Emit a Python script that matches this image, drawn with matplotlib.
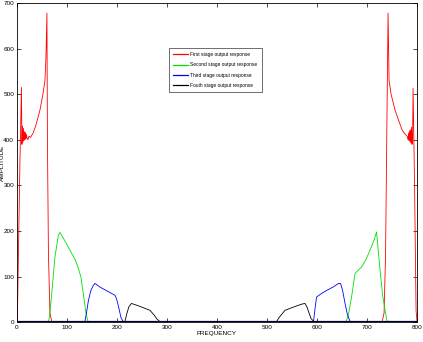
import matplotlib
matplotlib.use('Agg')
import matplotlib.pyplot as plt

plt.rcParams['font.family'] = ['Liberation Sans', 'DejaVu Sans']

# First stage (red)
x1 = [0, 1, 3, 6, 9, 10, 11, 12, 13, 14, 15, 16, 17, 18, 19, 20, 22, 24, 27, 32, 38, 46, 52, 56, 58, 60,
      61, 63, 66, 70, 730, 734, 737, 740, 742, 744, 748, 756, 764, 770, 775, 780, 782, 783, 784, 785, 786,
      787, 788, 789, 790, 791, 792, 795, 798, 800]
y1 = [0, 10, 150, 350, 515, 390, 430, 395, 425, 398, 418, 400, 416, 402, 412, 405, 400, 408, 405, 414, 432, 465, 500, 530, 580, 678,
      400, 150, 20, 0, 0, 20, 150, 470, 678, 530, 500, 465, 440, 422, 414, 408, 400, 415, 398, 420, 395,
      422, 393, 428, 390, 400, 513, 300, 25, 0]

# Second stage (green)
x2 = [0, 60, 63, 65, 69, 76, 83, 86, 95, 106, 116, 122, 128, 133, 138, 142, 146,
      654, 658, 662, 669, 676, 689, 698, 706, 714, 719, 726, 731, 736, 740, 800]
y2 = [0, 0, 2, 11, 55, 143, 191, 197, 180, 158, 138, 121, 99, 60, 20, 2, 0,
      0, 2, 12, 55, 107, 121, 138, 158, 180, 198, 114, 60, 26, 2, 0]

# Third stage (blue)
x3 = [0, 132, 136, 139, 143, 148, 153, 156, 166, 176, 186, 196, 199, 204, 208, 212, 216,
      589, 593, 596, 599, 604, 609, 620, 632, 643, 647, 651, 656, 661, 666, 670, 800]
y3 = [0, 0, 2, 20, 48, 70, 81, 85, 77, 71, 65, 59, 52, 30, 10, 2, 0,
      0, 2, 30, 55, 59, 63, 70, 77, 85, 85, 70, 41, 15, 2, 0, 0]

# Fourth stage (black)
x4 = [0, 212, 216, 220, 224, 229, 240, 252, 266, 274, 280, 286, 290,
      515, 519, 524, 530, 536, 548, 560, 571, 576, 580, 584, 588, 593, 597, 800]
y4 = [0, 0, 2, 20, 34, 41, 37, 32, 26, 16, 7, 1, 0,
      0, 1, 10, 18, 26, 31, 36, 40, 41, 33, 20, 8, 2, 0, 0]

labels = ['First stage output response', 'Second stage output response',
          'Third stage output response', 'Fouth stage output response']
colors = ['#ff0000', '#00e000', '#0000ff', '#000000']

fig = plt.figure(figsize=(4.23, 3.42), dpi=100)
ax = fig.add_axes([0.040, 0.058, 0.946, 0.933])

for xs, ys, c, lab in zip([x1, x2, x3, x4], [y1, y2, y3, y4], colors, labels):
    ax.plot(xs, ys, color=c, lw=0.6, label=lab)
ax.axhline(0, color='#000033', lw=1.6, zorder=5)

ax.set_xlim(0, 800)
ax.set_ylim(0, 700)
ax.set_xticks(range(0, 801, 100))
ax.set_yticks(range(0, 701, 100))
ax.tick_params(direction='in', length=3, width=0.5, labelsize=4.6, pad=2,
               top=True, right=True)
for s in ax.spines.values():
    s.set_linewidth(0.6)

ax.set_xlabel('FREQUENCY', fontsize=4.6, labelpad=1)
ax.set_ylabel('AMPLITUDE', fontsize=4.6)
ax.yaxis.set_label_coords(-0.029, 0.5)

leg = ax.legend(loc='upper left', bbox_to_anchor=(0.373, 0.868), fontsize=3.5,
                frameon=True, fancybox=False, edgecolor='black', handlelength=3.0,
                handletextpad=0.6, borderpad=0.9, labelspacing=1.1)
leg.get_frame().set_linewidth(0.5)
for h, c in zip(leg.get_lines(), colors):
    h.set_color(c)
    h.set_linewidth(0.9)

fig.savefig('out.png', dpi=100)
